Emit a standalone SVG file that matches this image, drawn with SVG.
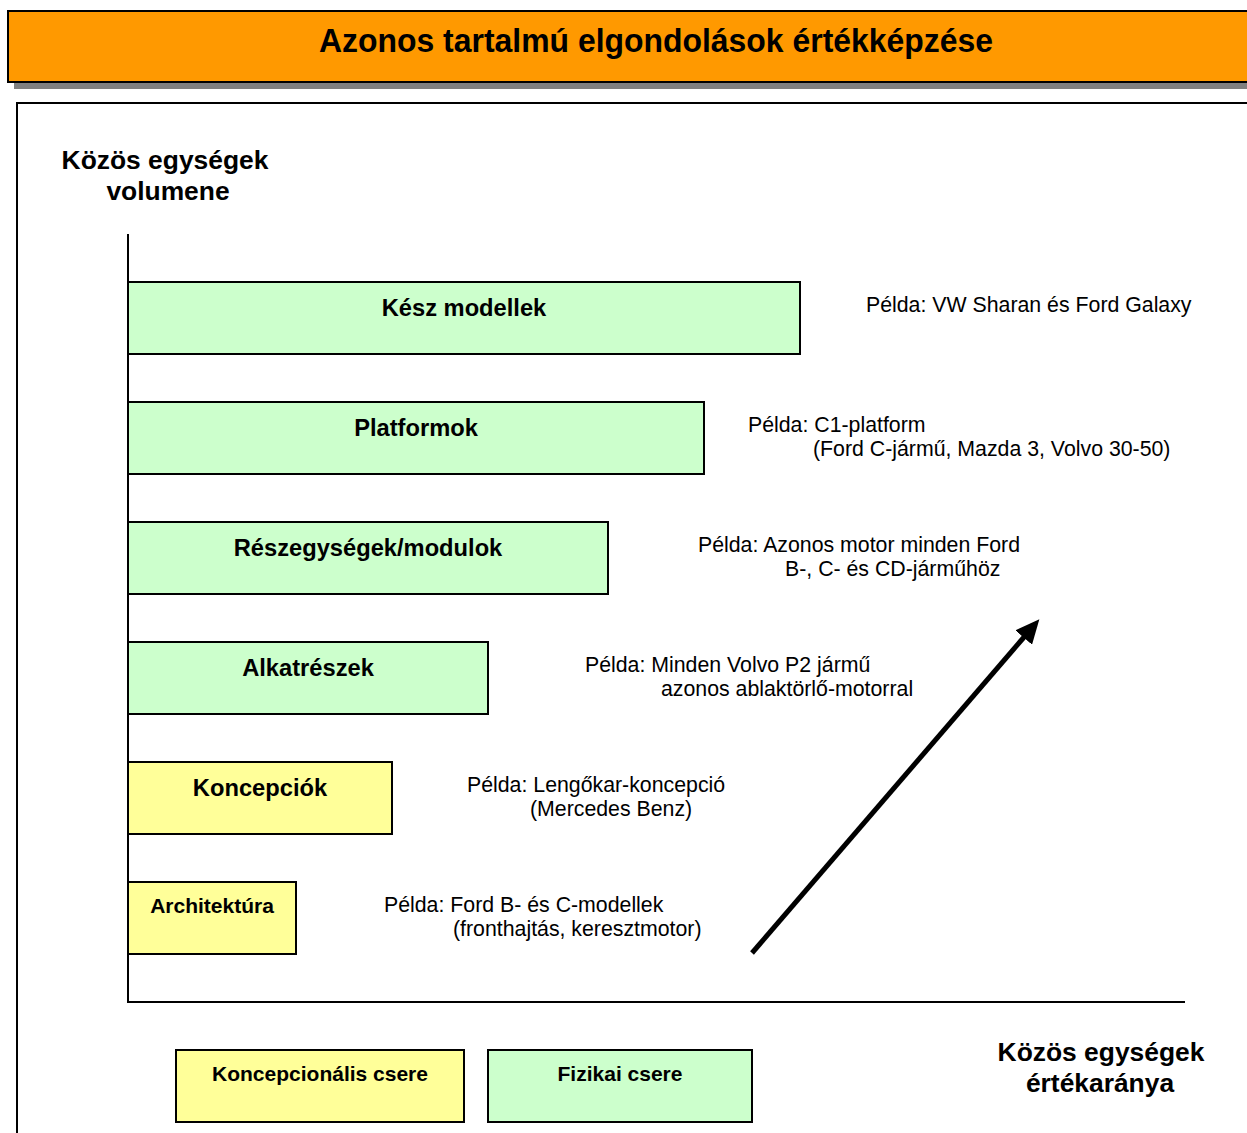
<svg xmlns="http://www.w3.org/2000/svg" width="1247" height="1133" viewBox="0 0 1247 1133">
  <style>
    .bar { stroke: #000; stroke-width: 2; }
    .phys { fill: #CCFFCC; }
    .conc { fill: #FFFF99; }
    .lbl { font-family: "Liberation Sans", Arial, sans-serif; font-weight: bold; fill: #000; text-anchor: middle; }
    .ex { font-family: "Liberation Sans", Arial, sans-serif; font-size: 21.3px; fill: #000; }
    .axis { stroke: #000; stroke-width: 2; fill: none; }
  </style>
  <defs>
    <marker id="head" markerUnits="userSpaceOnUse" markerWidth="26" markerHeight="22" refX="2" refY="11" orient="auto">
      <path d="M0,0 L24,11 L0,22 z" fill="#000"/>
    </marker>
  </defs>

  <rect width="1247" height="1133" fill="#fff"/>

  <!-- title banner with drop shadow -->
  <g id="title">
    <rect x="14" y="17" width="1240" height="72" fill="#808080"/>
    <rect x="8" y="11" width="1244" height="71" fill="#FF9900" stroke="#000" stroke-width="2"/>
    <text class="lbl" x="656" y="52" font-size="33" textLength="674" lengthAdjust="spacingAndGlyphs">Azonos tartalmú elgondolások értékképzése</text>
  </g>

  <!-- content frame -->
  <rect x="17" y="103" width="1240" height="1040" fill="none" stroke="#000" stroke-width="2"/>

  <!-- axis titles -->
  <g id="y-axis-title">
    <text class="lbl" font-size="26.4" x="165" y="169">Közös egységek</text>
    <text class="lbl" font-size="26.4" x="168" y="200">volumene</text>
  </g>
  <g id="x-axis-title">
    <text class="lbl" font-size="26.4" x="1101" y="1061">Közös egységek</text>
    <text class="lbl" font-size="26.4" x="1100" y="1092">értékaránya</text>
  </g>

  <!-- bars -->
  <g id="kesz-modellek">
    <rect class="bar phys" x="128" y="282" width="672" height="72"/>
    <text class="lbl" font-size="23.7" x="464" y="316">Kész modellek</text>
  </g>
  <g id="platformok">
    <rect class="bar phys" x="128" y="402" width="576" height="72"/>
    <text class="lbl" font-size="23.7" x="416" y="436">Platformok</text>
  </g>
  <g id="reszegysegek">
    <rect class="bar phys" x="128" y="522" width="480" height="72"/>
    <text class="lbl" font-size="23.7" x="368" y="556">Részegységek/modulok</text>
  </g>
  <g id="alkatreszek">
    <rect class="bar phys" x="128" y="642" width="360" height="72"/>
    <text class="lbl" font-size="23.7" x="308" y="676">Alkatrészek</text>
  </g>
  <g id="koncepciok">
    <rect class="bar conc" x="128" y="762" width="264" height="72"/>
    <text class="lbl" font-size="23.7" x="260" y="796">Koncepciók</text>
  </g>
  <g id="architektura">
    <rect class="bar conc" x="128" y="882" width="168" height="72"/>
    <text class="lbl" font-size="21" x="212" y="913">Architektúra</text>
  </g>

  <!-- examples -->
  <g id="examples">
    <text class="ex" x="866" y="312">Példa: VW Sharan és Ford Galaxy</text>
    <text class="ex" x="748" y="432">Példa: C1-platform</text>
    <text class="ex" x="813" y="456">(Ford C-jármű, Mazda 3, Volvo 30-50)</text>
    <text class="ex" x="698" y="552">Példa: Azonos motor minden Ford</text>
    <text class="ex" x="785" y="576">B-, C- és CD-járműhöz</text>
    <text class="ex" x="585" y="672">Példa: Minden Volvo P2 jármű</text>
    <text class="ex" x="661" y="696">azonos ablaktörlő-motorral</text>
    <text class="ex" x="467" y="792">Példa: Lengőkar-koncepció</text>
    <text class="ex" x="530" y="816">(Mercedes Benz)</text>
    <text class="ex" x="384" y="912">Példa: Ford B- és C-modellek</text>
    <text class="ex" x="453" y="936">(fronthajtás, keresztmotor)</text>
  </g>

  <!-- legend -->
  <g id="legend-koncepcionalis">
    <rect class="bar conc" x="176" y="1050" width="288" height="72"/>
    <text class="lbl" font-size="21" x="320" y="1081">Koncepcionális csere</text>
  </g>
  <g id="legend-fizikai">
    <rect class="bar phys" x="488" y="1050" width="264" height="72"/>
    <text class="lbl" font-size="21" x="620" y="1081">Fizikai csere</text>
  </g>

  <!-- axes and trend arrow -->
  <g id="connectors">
    <polyline class="axis" points="128,234 128,1002 1185,1002"/>
    <line x1="752" y1="953" x2="1025" y2="636" stroke="#000" stroke-width="5" marker-end="url(#head)"/>
  </g>
</svg>
